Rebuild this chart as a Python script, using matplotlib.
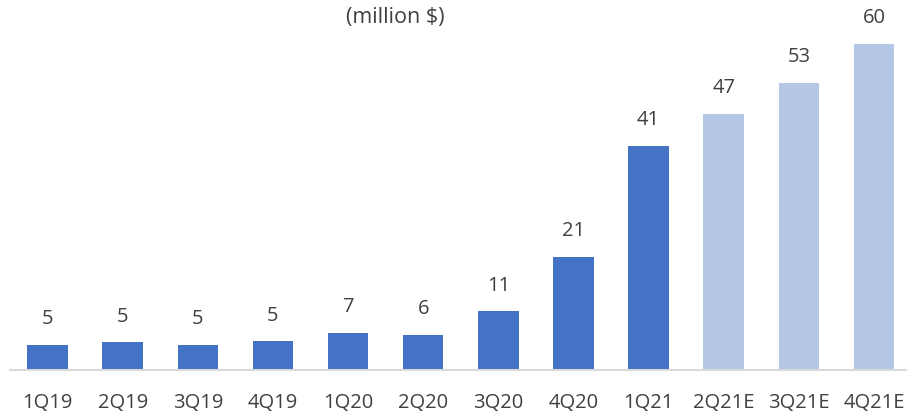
import matplotlib.pyplot as plt

# quarterly values, million $
quarters = ["1Q19", "2Q19", "3Q19", "4Q19", "1Q20", "2Q20", "3Q20",
            "4Q20", "1Q21", "2Q21E", "3Q21E", "4Q21E"]
values = [4.6, 5.0, 4.6, 5.2, 6.8, 6.4, 10.7, 20.8, 41.2, 47.1, 52.8, 60.0]
estimate = [False] * 9 + [True] * 3

ACTUAL = "#4472C4"
FORECAST = "#B4C7E7"
TEXT = "#404040"

plt.rcParams["font.family"] = ["Open Sans", "DejaVu Sans"]

fig = plt.figure(figsize=(9.07, 4.15), dpi=100)
ax = fig.add_axes([0.011, 0.1096, 0.994, 0.864])

colors = [FORECAST if e else ACTUAL for e in estimate]
x = range(len(quarters))
bars = ax.bar(x, values, width=0.54, color=colors, zorder=2)

for b, v in zip(bars, values):
    ax.annotate(f"{v:.0f}", (b.get_x() + b.get_width() / 2, v),
                xytext=(0, 11), textcoords="offset points",
                ha="center", va="bottom", fontsize=14.5, color=TEXT)

ax.set_xlim(-0.5, 11.5)
ax.set_ylim(0, 66)
ax.set_xticks(list(x))
ax.set_xticklabels(quarters, fontsize=14.5, color=TEXT)
ax.tick_params(axis="x", length=0, pad=17)
ax.set_yticks([])
for side in ["top", "right", "left"]:
    ax.spines[side].set_visible(False)
ax.spines["bottom"].set_color("#D9D9D9")
ax.spines["bottom"].set_linewidth(1.5)

fig.text(395 / 907, 1 - 18 / 415, "(million $)", ha="center", va="center",
         fontsize=15.5, color=TEXT)

fig.savefig("out.png", dpi=100)
